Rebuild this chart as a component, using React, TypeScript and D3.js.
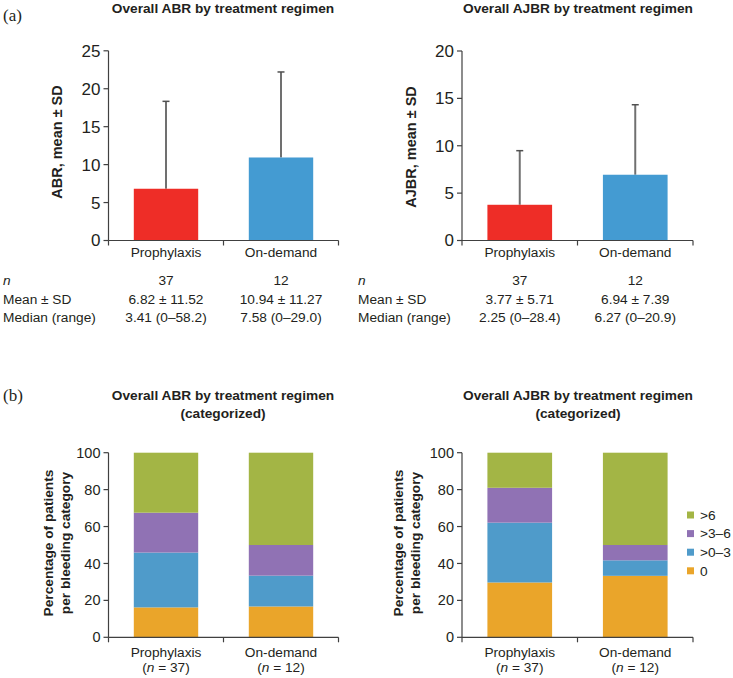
import React from "react";
import * as d3 from "d3";

const categories = ["Prophylaxis", "On-demand"];
const nLabels = ["37", "12"];

const abrMean = [6.82, 10.94];
const abrSD = [11.52, 11.27];
const abrMedian = ["3.41 (0–58.2)", "7.58 (0–29.0)"];
const ajbrMean = [3.77, 6.94];
const ajbrSD = [5.71, 7.39];
const ajbrMedian = ["2.25 (0–28.4)", "6.27 (0–20.9)"];

const abrTicks = [0, 5, 10, 15, 20, 25];
const ajbrTicks = [0, 5, 10, 15, 20];
const pctTicks = [0, 20, 40, 60, 80, 100];

const stackKeys = ["0", ">0–3", ">3–6", ">6"];
// percentages per category, order: 0, >0-3, >3-6, >6
const abrCat = [
  [16.2, 29.7, 21.6, 32.5],
  [16.7, 16.7, 16.6, 50.0],
];
const ajbrCat = [
  [29.7, 32.4, 18.9, 19.0],
  [33.3, 8.4, 8.3, 50.0],
];

const barColors = ["#EE2D27", "#449BD2"];
const stackColors: Record<string, string> = {
  "0": "#EAA52A",
  ">0–3": "#4F9BCA",
  ">3–6": "#9072B4",
  ">6": "#A3B545",
};
const legendOrder = [">6", ">3–6", ">0–3", "0"];

const FONT = "'Liberation Sans', Arial, sans-serif";
const TXT = "#231F20";
const AX = "#404040";

type PanelProps = {
  x0: number;
  x1: number;
  y0: number;
  y1: number;
  domainMax: number;
  ticks: number[];
  tickFont?: number;
  children?: React.ReactNode;
};

function Axes({ x0, x1, y0, y1, domainMax, ticks, tickFont = 13.7 }: PanelProps) {
  const y = d3.scaleLinear().domain([0, domainMax]).range([y0, y1]);
  const xb = d3.scaleBand().domain(categories).range([x0, x1]);
  const boundaries = [x0, ...categories.slice(1).map((c) => xb(c)!), x1];
  return (
    <g>
      <line x1={x0} x2={x0} y1={y0} y2={y1} stroke={AX} strokeWidth={1.2} />
      <line x1={x0} x2={x1} y1={y0} y2={y0} stroke={AX} strokeWidth={1.2} />
      {ticks.map((t) => (
        <g key={t}>
          <line x1={x0 - 5} x2={x0} y1={y(t)} y2={y(t)} stroke={AX} strokeWidth={1.2} />
          <text
            x={x0 - 8}
            y={y(t)}
            dy="0.35em"
            textAnchor="end"
            fontSize={tickFont}
            fill={TXT}
            fontFamily={FONT}
          >
            {t}
          </text>
        </g>
      ))}
      {boundaries.map((b, i) => (
        <line key={i} x1={b} x2={b} y1={y0} y2={y0 + 5} stroke={AX} strokeWidth={1.2} />
      ))}
    </g>
  );
}

function MeanPanel({
  x0,
  x1,
  y0,
  y1,
  domainMax,
  ticks,
  mean,
  sd,
}: PanelProps & { mean: number[]; sd: number[] }) {
  const y = d3.scaleLinear().domain([0, domainMax]).range([y0, y1]);
  const xb = d3.scaleBand().domain(categories).range([x0, x1]).paddingInner(0.44).paddingOuter(0.22);
  return (
    <g>
      {categories.map((c, i) => {
        const cx = xb(c)! + xb.bandwidth() / 2;
        const top = y(mean[i] + sd[i]);
        return (
          <g key={c}>
            <line x1={cx} x2={cx} y1={y(mean[i])} y2={top} stroke="#707070" strokeWidth={2} />
            <line x1={cx - 3.5} x2={cx + 3.5} y1={top} y2={top} stroke="#505050" strokeWidth={1.5} />
            <rect
              x={xb(c)!}
              y={y(mean[i])}
              width={xb.bandwidth()}
              height={y0 - y(mean[i])}
              fill={barColors[i]}
            />
          </g>
        );
      })}
      <Axes x0={x0} x1={x1} y0={y0} y1={y1} domainMax={domainMax} ticks={ticks} tickFont={17} />
      {categories.map((c) => {
        const cx = xb(c)! + xb.bandwidth() / 2;
        return (
          <text key={c} x={cx} y={257} textAnchor="middle" fontSize={13.7} fill={TXT} fontFamily={FONT}>
            {c}
          </text>
        );
      })}
    </g>
  );
}

function StackPanel({
  x0,
  x1,
  y0,
  y1,
  domainMax,
  ticks,
  data,
}: PanelProps & { data: number[][] }) {
  const y = d3.scaleLinear().domain([0, domainMax]).range([y0, y1]);
  const xb = d3.scaleBand().domain(categories).range([x0, x1]).paddingInner(0.44).paddingOuter(0.22);
  const rows = categories.map((c, i) => {
    const o: Record<string, any> = { cat: c };
    stackKeys.forEach((k, j) => (o[k] = data[i][j]));
    return o;
  });
  const series = d3.stack<Record<string, any>>().keys(stackKeys)(rows);
  return (
    <g>
      {series.map((s) => (
        <g key={s.key} fill={stackColors[s.key]}>
          {s.map((d, i) => (
            <rect
              key={i}
              x={xb(categories[i])!}
              y={y(d[1])}
              width={xb.bandwidth()}
              height={y(d[0]) - y(d[1])}
            />
          ))}
        </g>
      ))}
      <Axes x0={x0} x1={x1} y0={y0} y1={y1} domainMax={domainMax} ticks={ticks} tickFont={14.5} />
      {categories.map((c, i) => {
        const cx = xb(c)! + xb.bandwidth() / 2;
        return (
          <g key={c}>
            <text x={cx} y={656.5} textAnchor="middle" fontSize={13.7} fill={TXT} fontFamily={FONT}>
              {c}
            </text>
            <text x={cx} y={672} textAnchor="middle" fontSize={13.7} fill={TXT} fontFamily={FONT}>
              (<tspan fontStyle="italic">n</tspan> = {nLabels[i]})
            </text>
          </g>
        );
      })}
    </g>
  );
}

function Title({ x, y, lines }: { x: number; y: number; lines: string[] }) {
  return (
    <g>
      {lines.map((l, i) => (
        <text
          key={i}
          x={x}
          y={y + i * 18}
          textAnchor="middle"
          fontSize={13.7}
          fontWeight="bold"
          fill={TXT}
          fontFamily={FONT}
        >
          {l}
        </text>
      ))}
    </g>
  );
}

function YLabel({ x, y, lines, size = 13.7 }: { x: number; y: number; lines: string[]; size?: number }) {
  return (
    <g transform={`translate(${x},${y}) rotate(-90)`}>
      {lines.map((l, i) => (
        <text
          key={i}
          x={0}
          y={i * 17}
          dy="0.35em"
          textAnchor="middle"
          fontSize={size}
          fontWeight="bold"
          fill={TXT}
          fontFamily={FONT}
        >
          {l}
        </text>
      ))}
    </g>
  );
}

function Table({
  labelX,
  cols,
  mean,
  sd,
  median,
}: {
  labelX: number;
  cols: number[];
  mean: number[];
  sd: number[];
  median: string[];
}) {
  const rowsY = [285, 304, 321.5];
  const common = { fontSize: 13.7, fill: TXT, fontFamily: FONT };
  return (
    <g>
      <text x={labelX} y={rowsY[0]} {...common} fontStyle="italic">
        n
      </text>
      <text x={labelX} y={rowsY[1]} {...common}>
        Mean ± SD
      </text>
      <text x={labelX} y={rowsY[2]} {...common}>
        Median (range)
      </text>
      {cols.map((cx, i) => (
        <g key={i}>
          <text x={cx} y={rowsY[0]} textAnchor="middle" {...common}>
            {nLabels[i]}
          </text>
          <text x={cx} y={rowsY[1]} textAnchor="middle" {...common}>
            {mean[i].toFixed(2)} ± {sd[i].toFixed(2)}
          </text>
          <text x={cx} y={rowsY[2]} textAnchor="middle" {...common}>
            {median[i]}
          </text>
        </g>
      ))}
    </g>
  );
}

export default function App() {
  const L = { x0: 108.5, x1: 338.5 };
  const R = { x0: 462, x1: 693 };
  const centers = (r: { x0: number; x1: number }) => {
    const xb = d3.scaleBand().domain(categories).range([r.x0, r.x1]).paddingInner(0.44).paddingOuter(0.22);
    return categories.map((c) => xb(c)! + xb.bandwidth() / 2);
  };
  return (
    <svg
      width={733}
      height={678}
      style={{ position: "absolute", left: 0, top: 0, background: "#fff" }}
    >
      <rect width={733} height={678} fill="#fff" />
      <text x={3} y={21} fontSize={17} fontFamily="'Liberation Serif', 'Times New Roman', serif" fill={TXT}>
        (a)
      </text>
      <text x={3} y={401} fontSize={17} fontFamily="'Liberation Serif', 'Times New Roman', serif" fill={TXT}>
        (b)
      </text>

      <Title x={223} y={13} lines={["Overall ABR by treatment regimen"]} />
      <Title x={578} y={13} lines={["Overall AJBR by treatment regimen"]} />
      <Title x={223} y={400} lines={["Overall ABR by treatment regimen", "(categorized)"]} />
      <Title x={578} y={400} lines={["Overall AJBR by treatment regimen", "(categorized)"]} />

      <YLabel x={57} y={142} lines={["ABR, mean ± SD"]} size={14.5} />
      <YLabel x={411} y={147} lines={["AJBR, mean ± SD"]} size={14.5} />
      <YLabel x={48} y={543} lines={["Percentage of patients", "per bleeding category"]} />
      <YLabel x={398} y={543} lines={["Percentage of patients", "per bleeding category"]} />

      <MeanPanel {...L} y0={240.5} y1={50.8} domainMax={25} ticks={abrTicks} mean={abrMean} sd={abrSD} />
      <MeanPanel {...R} y0={240.5} y1={51} domainMax={20} ticks={ajbrTicks} mean={ajbrMean} sd={ajbrSD} />

      <Table labelX={3} cols={centers(L)} mean={abrMean} sd={abrSD} median={abrMedian} />
      <Table labelX={358} cols={centers(R)} mean={ajbrMean} sd={ajbrSD} median={ajbrMedian} />

      <StackPanel {...L} y0={637.3} y1={452.7} domainMax={100} ticks={pctTicks} data={abrCat} />
      <StackPanel {...R} y0={637.3} y1={452.7} domainMax={100} ticks={pctTicks} data={ajbrCat} />

      <g>
        {legendOrder.map((k, i) => {
          const ly = 515 + i * 18.6;
          return (
            <g key={k}>
              <rect x={687} y={ly - 3.5} width={7} height={7} fill={stackColors[k]} />
              <text x={700} y={ly} dy="0.35em" fontSize={13.7} fill={TXT} fontFamily={FONT}>
                {k}
              </text>
            </g>
          );
        })}
      </g>
    </svg>
  );
}
